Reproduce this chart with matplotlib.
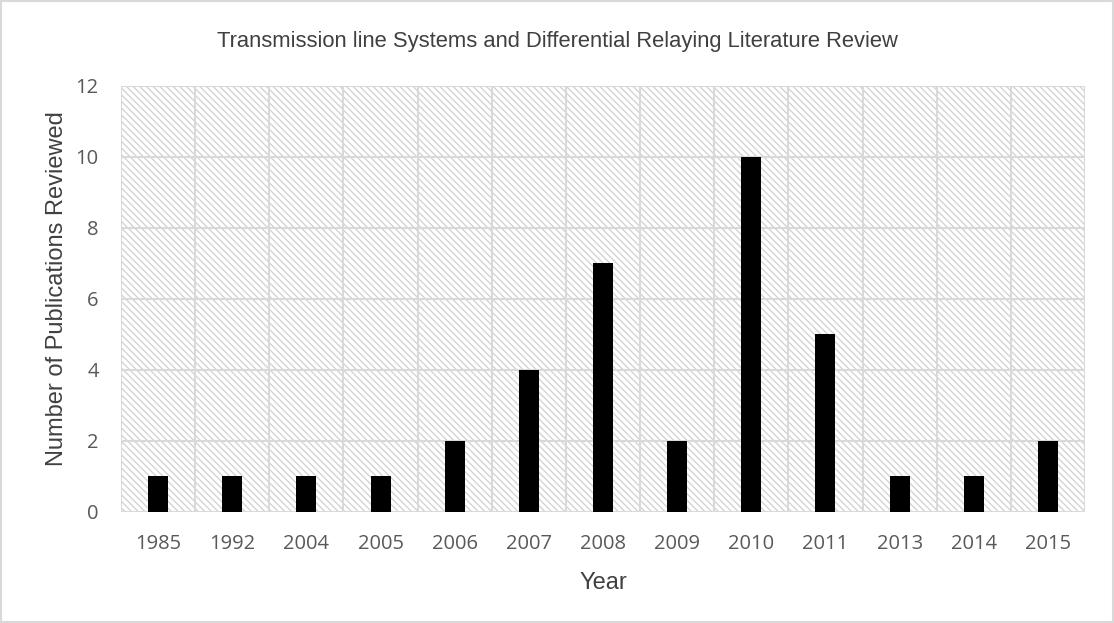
import matplotlib
matplotlib.use("Agg")
import matplotlib.pyplot as plt
from matplotlib.patches import Rectangle

years = ["1985", "1992", "2004", "2005", "2006", "2007", "2008", "2009", "2010", "2011", "2013", "2014", "2015"]
counts = [1, 1, 1, 1, 2, 4, 7, 2, 10, 5, 1, 1, 2]
yticks = [0, 2, 4, 6, 8, 10, 12]

plt.rcParams['font.family'] = ['Liberation Sans', 'DejaVu Sans']
plt.rcParams['hatch.color'] = '#d4d4d4'
plt.rcParams['hatch.linewidth'] = 1.0

fig = plt.figure(figsize=(11.14, 6.23), dpi=100)
ax = fig.add_axes([0.1086, 0.1782, 0.8654, 0.684])

n = len(years)
ax.set_xlim(-0.5, n - 0.5)
ax.set_ylim(0, 12)

# hatched background
bg = Rectangle((0, 0), 1, 1, transform=ax.transAxes, facecolor='white',
               edgecolor='#d4d4d4', hatch='\\\\\\\\\\', linewidth=0, zorder=0)
ax.add_patch(bg)

# grid lines
for y in yticks:
    ax.axhline(y, color='#d9d9d9', linewidth=1.5, zorder=1)
for i in range(n + 1):
    ax.axvline(i - 0.5, color='#d9d9d9', linewidth=1.5, zorder=1)

ax.bar(range(n), counts, width=0.27, color='black', zorder=3)

tick_font = ['Open Sans', 'DejaVu Sans']
ax.set_xticks(range(n))
ax.set_xticklabels(years, fontsize=14.5, color='#595959', family=tick_font)
ax.set_yticks(yticks)
ax.set_yticklabels([str(v) for v in yticks], fontsize=14.5, color='#595959', family=tick_font)
ax.tick_params(axis='x', length=0, pad=16)
ax.tick_params(axis='y', length=0, pad=16)
for s in ax.spines.values():
    s.set_visible(False)

ax.set_xlabel("Year", fontsize=17, color='#404040', labelpad=13)
ax.set_ylabel("Number of Publications Reviewed", fontsize=17, color='#404040')
ax.yaxis.set_label_coords(-0.0545, 0.525)
fig.text(0.5, 1 - 42 / 623, "Transmission line Systems and Differential Relaying Literature Review",
         ha='center', va='center', fontsize=15.8, color='#404040')

fig.patches.append(Rectangle((0.001, 0.001), 0.998, 0.997, transform=fig.transFigure,
                             fill=False, edgecolor='#d9d9d9', linewidth=1.5))

fig.savefig("out.png", dpi=100)
